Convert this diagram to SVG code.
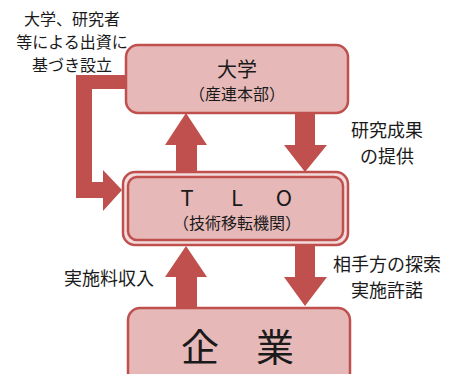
<svg xmlns="http://www.w3.org/2000/svg" width="454" height="374" viewBox="0 0 454 374">
<style>
.box{fill:#e6b9b8;stroke:#c0504d;stroke-width:2.5}
.arr{fill:#c0504d;stroke:none}
text{font-family:"Noto Sans CJK JP","Noto Sans",sans-serif;fill:#1a1a1a;text-anchor:middle;dominant-baseline:central}
.lbl{font-size:18px}
.sm{font-size:16px}
.left{font-size:16px}
</style>
<rect width="454" height="374" fill="#ffffff"/>
<g id="connectors">
<path class="arr" d="M176,172 V145 H165 L186,113 L207,145 H197 V172 Z"/>
<path class="arr" d="M295,113 V145 H284 L305,172 L327,145 H315 V113 Z"/>
<path class="arr" d="M295,245 V277 H284 L305,306 L327,277 H315 V245 Z"/>
<path class="arr" d="M176,308 V277 H165 L186,246 L207,277 H197 V308 Z"/>
<path class="arr" d="M126,75 H76 V198 H103 V211 L122,190 L103,170 V182 H92 V89 H126 Z"/>
</g>
<g id="daigaku">
<rect class="box" x="126" y="45" width="222" height="68" rx="12"/>
<text x="237" y="68" font-size="20">大学</text>
<text x="237" y="93" class="sm">（産連本部）</text>
</g>
<g id="tlo">
<rect x="123" y="172" width="225" height="73" rx="12" fill="#f2dcdb" stroke="#c0504d" stroke-width="2.5"/>
<rect class="box" x="128" y="177" width="215" height="63" rx="9" stroke-width="2"/>
<text x="187" y="196" font-size="22">T</text>
<text x="237" y="196" font-size="22">L</text>
<text x="284" y="196" font-size="22">O</text>
<text x="237" y="222" class="sm">（技術移転機関）</text>
</g>
<g id="kigyo">
<rect class="box" x="128" y="308" width="222" height="80" rx="12"/>
<text x="200" y="344" font-size="38">企</text>
<text x="275" y="344" font-size="38">業</text>
</g>
<g id="labels">
<text x="72" y="18" class="left">大学、研究者</text>
<text x="72" y="41" class="left">等による出資に</text>
<text x="72" y="64" class="left">基づき設立</text>
<text x="387" y="129" class="lbl">研究成果</text>
<text x="387" y="155" class="lbl">の提供</text>
<text x="387" y="263" class="lbl">相手方の探索</text>
<text x="387" y="289" class="lbl">実施許諾</text>
<text x="109" y="277" class="lbl">実施料収入</text>
</g>
</svg>
